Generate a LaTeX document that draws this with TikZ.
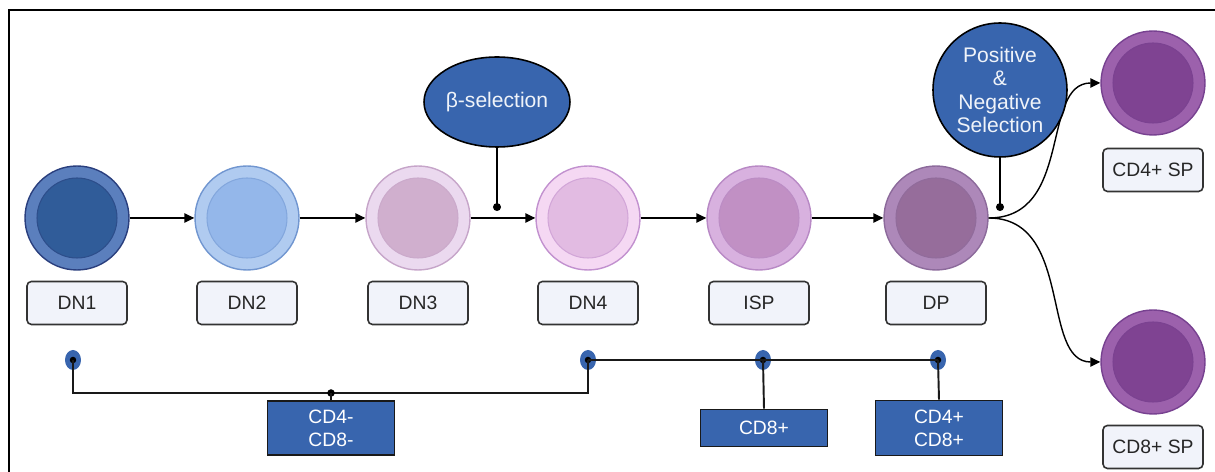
\documentclass[tikz,border=0pt]{standalone}
\usepackage{fontspec}
\setmainfont{Liberation Sans}
\usetikzlibrary{positioning, shapes.geometric, arrows.meta}

\definecolor{selblue}{HTML}{3865AE}
\definecolor{namefill}{HTML}{F1F3FA}
\definecolor{dnoneout}{HTML}{5B7FBD}
\definecolor{dnonein}{HTML}{305C99}
\definecolor{dnoneline}{HTML}{2A3F7E}
\definecolor{dntwoout}{HTML}{B0CBF0}
\definecolor{dntwoin}{HTML}{94B7EA}
\definecolor{dntwoline}{HTML}{7196D0}
\definecolor{dnthreeout}{HTML}{EBD9EF}
\definecolor{dnthreein}{HTML}{D0AFCE}
\definecolor{dnthreeline}{HTML}{C6A5C9}
\definecolor{dnfourout}{HTML}{F5D8F3}
\definecolor{dnfourin}{HTML}{E2BBE2}
\definecolor{dnfourline}{HTML}{C291CF}
\definecolor{ispout}{HTML}{D8B1DF}
\definecolor{ispin}{HTML}{C190C4}
\definecolor{ispline}{HTML}{B889C5}
\definecolor{dpout}{HTML}{AD88B9}
\definecolor{dpin}{HTML}{966D9B}
\definecolor{dpline}{HTML}{8C6A9B}
\definecolor{spout}{HTML}{9C61AC}
\definecolor{spin}{HTML}{7F4392}
\definecolor{spline}{HTML}{774190}

\tikzset{
  cell/.style n args={3}{circle, draw=#3, line width=0.8pt, fill=#1, minimum size=2.08cm, inner sep=0pt,
    path picture={\draw[#3!50!#2, fill=#2, line width=0.6pt] (path picture bounding box.center) circle (0.8cm);}},
  namebox/.style={rectangle, rounded corners=2.5pt, draw=black!80, line width=0.9pt, fill=namefill,
    minimum width=2cm, minimum height=0.86cm, text=black!85, font=\fontsize{11}{13}\selectfont},
  cdbox/.style={rectangle, draw=black!90, line width=1.1pt, fill=selblue, minimum width=2.54cm,
    align=center, text=white, font=\fontsize{11}{13}\selectfont},
  selnode/.style={draw=black, line width=0.9pt, fill=selblue, text=white!92!selblue, align=center,
    inner sep=0pt, font=\fontsize{12}{13.2}\selectfont},
  tagdot/.style={ellipse, fill=selblue, minimum width=0.32cm, minimum height=0.4cm, inner sep=0pt,
    path picture={\fill[black] (path picture bounding box.center) circle (0.065cm);}},
  flow/.style={line width=0.8pt, -{Triangle[length=2mm, width=1.9mm]}},
  link/.style={line width=1.1pt, black!90}
}

\begin{document}
\begin{tikzpicture}[x=0.02cm, y=-0.02cm]
\useasboundingbox (0,0) rectangle (1215,472);

% frame
\draw[line width=0.9pt] (1215,10) -- (9,10) -- (9,472);

% Cells
\node[cell={dnoneout}{dnonein}{dnoneline}] (dn1) at (77,218) {};
\node[cell={dntwoout}{dntwoin}{dntwoline}] (dn2) at (247,218) {};
\node[cell={dnthreeout}{dnthreein}{dnthreeline}] (dn3) at (418,218) {};
\node[cell={dnfourout}{dnfourin}{dnfourline}] (dn4) at (588,218) {};
\node[cell={ispout}{ispin}{ispline}] (isp) at (759,218) {};
\node[cell={dpout}{dpin}{dpline}] (dp) at (936,218) {};
\node[cell={spout}{spin}{spline}] (sp4) at (1153,83) {};
\node[cell={spout}{spin}{spline}] (sp8) at (1153,362) {};

% Stage names
\node[namebox, below=0.2cm of dn1] (dn1name) {DN1};
\node[namebox, below=0.2cm of dn2] (dn2name) {DN2};
\node[namebox, below=0.2cm of dn3] (dn3name) {DN3};
\node[namebox, below=0.2cm of dn4] (dn4name) {DN4};
\node[namebox, below=0.2cm of isp] (ispname) {ISP};
\node[namebox, below=0.2cm of dp] (dpname) {DP};
\node[namebox, below=0.24cm of sp4] (sp4name) {CD4+ SP};
\node[namebox, below=0.2cm of sp8] (sp8name) {CD8+ SP};

% Arrows
\draw[flow] (dn1) -- (dn2);
\draw[flow] (dn2) -- (dn3);
\draw[flow] (dn3) -- (dn4);
\draw[flow] (dn4) -- (isp);
\draw[flow] (isp) -- (dp);
\draw[flow] (dp.east) .. controls +(85,0) and +(-60,0) .. (sp4.west);
\draw[flow] (dp.east) .. controls +(85,0) and +(-60,0) .. (sp8.west);

% Selection steps
\node[selnode, ellipse, minimum width=2.92cm, minimum height=1.8cm] (beta) at (497,102) {β-selection};
\node[selnode, circle, minimum size=2.68cm] (posneg) at (1000,90) {Positive\\\&\\Negative\\Selection};
\coordinate (betahit) at (497,211);
\coordinate (posneghit) at (1000,211);
\draw[line width=0.8pt, -{Circle[length=4.5pt]}] (beta) -- (betahit);
\draw[line width=0.8pt, -{Circle[length=4.5pt]}] (posneg) -- (posneghit);

% Surface markers
\node[tagdot] (d1) at (73,360) {};
\node[tagdot] (d2) at (588,360) {};
\node[tagdot] (d3) at (763,360) {};
\node[tagdot] (d4) at (938,360) {};
\node[cdbox, minimum height=1.08cm] (cdneg) at (331,428) {CD4-\\CD8-};
\node[cdbox, minimum height=0.74cm] (cdeight) at (764,428) {CD8+};
\node[cdbox, minimum height=1.1cm] (cdboth) at (939,428) {CD4+\\CD8+};
\coordinate (jn) at (331,393);
\draw[link] (d1.center) |- (jn) -| (d2.center);
\draw[link] (d2.center) -- (d4.center);
\fill (jn) circle (0.075cm);
\draw[link] (jn) -- (cdneg.north);
\draw[link] (d3.center) -- (cdeight.north);
\draw[link] (d4.center) -- (cdboth.north);

\end{tikzpicture}
\end{document}
